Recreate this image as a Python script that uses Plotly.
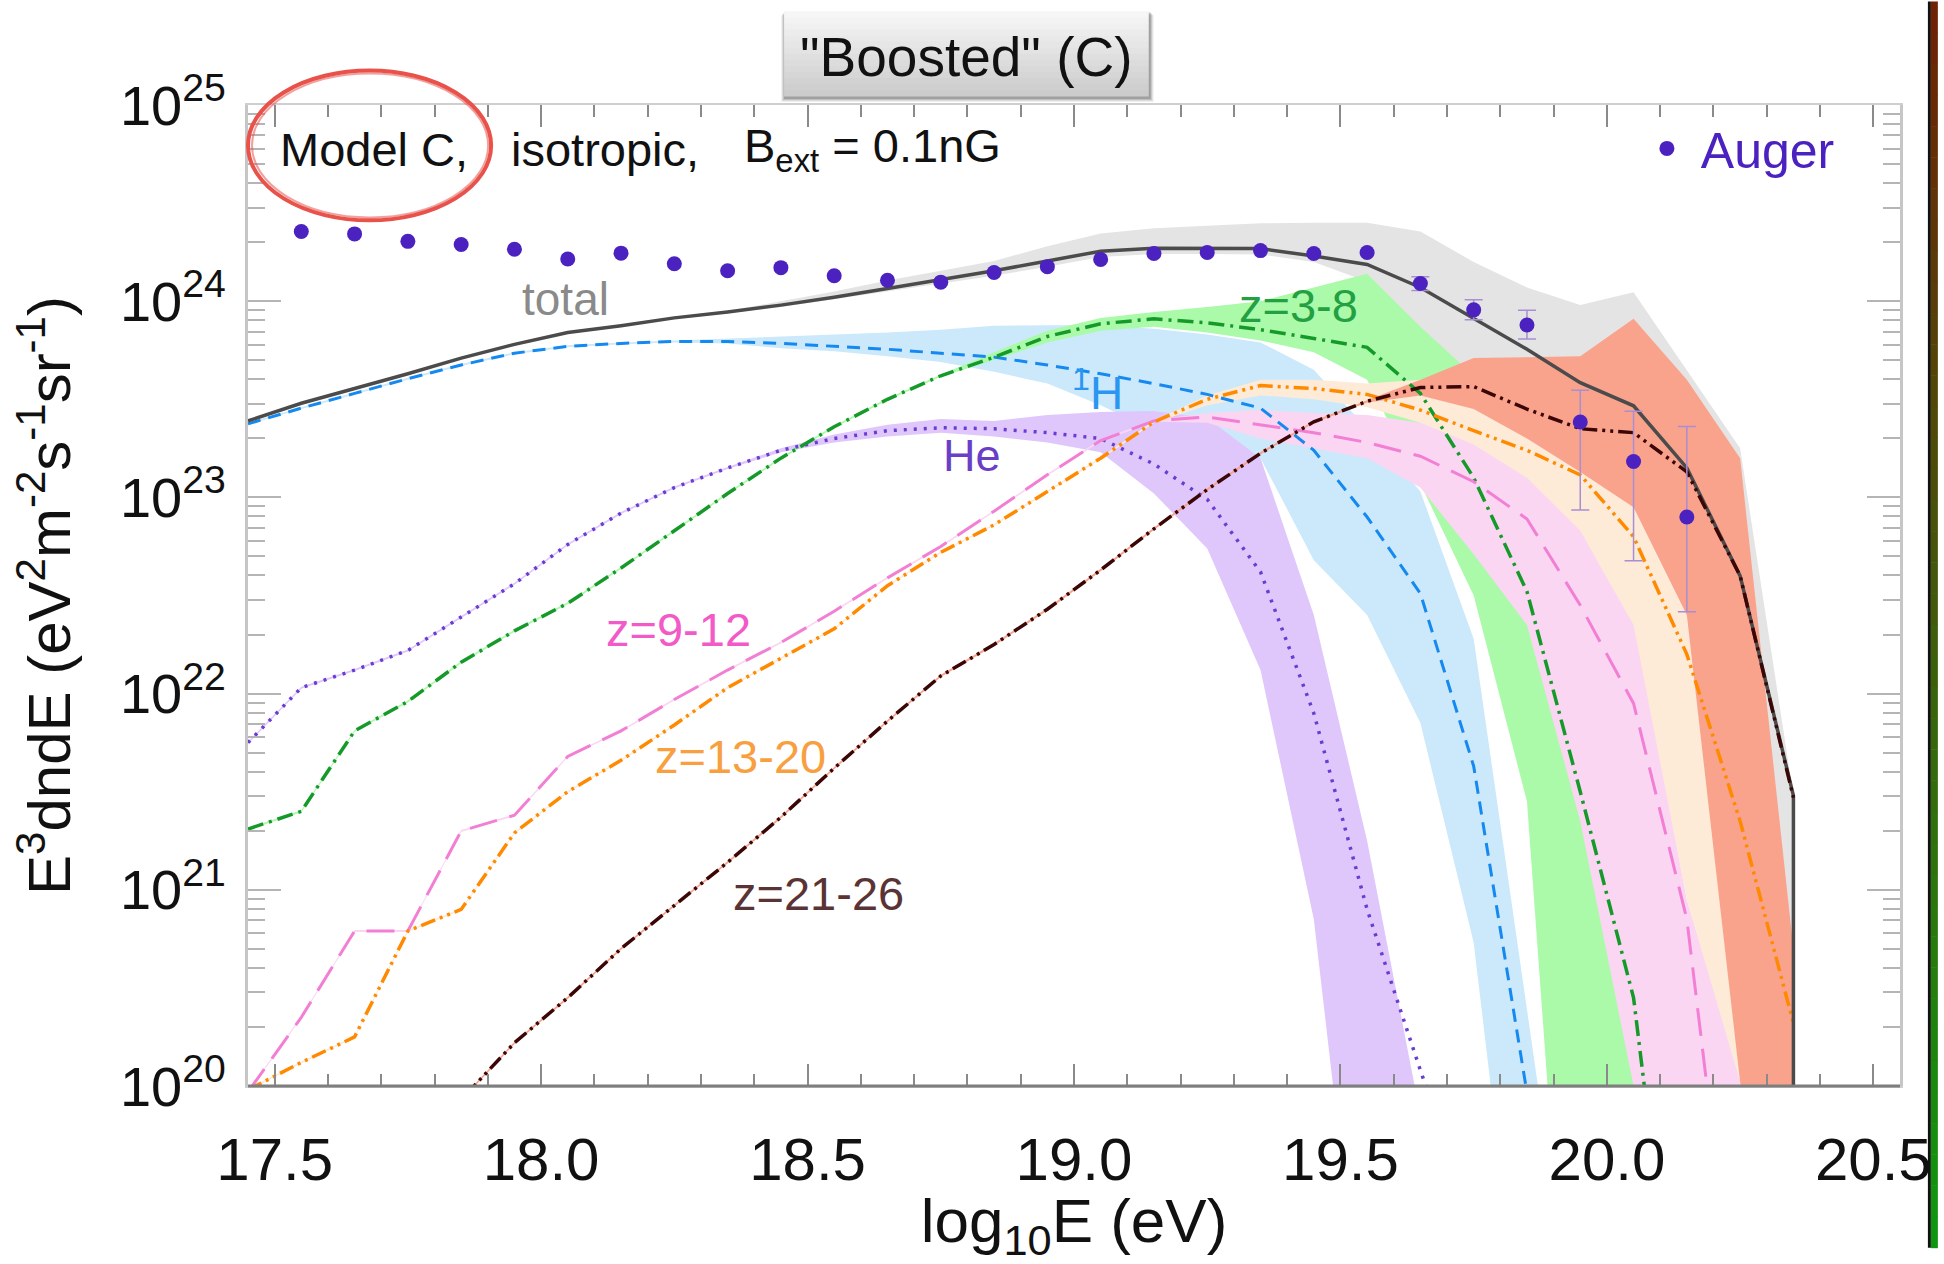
import numpy as np
import plotly.graph_objects as go

# ---------------- data (log10 of E^3 dN/dE, eV^2 m^-2 s^-1 sr^-1) ----------------
E_LOG = [17.45, 17.55, 17.65, 17.75, 17.85, 17.95, 18.05, 18.15, 18.25, 18.35,
         18.45, 18.55, 18.65, 18.75, 18.85, 18.95, 19.05, 19.15, 19.25, 19.35,
         19.45, 19.55, 19.65, 19.75, 19.85, 19.95, 20.05, 20.15, 20.25, 20.35]

TOTAL = [23.39, 23.48, 23.555, 23.63, 23.71, 23.78, 23.84, 23.875, 23.915, 23.945,
         23.98, 24.02, 24.065, 24.11, 24.155, 24.205, 24.255, 24.27, 24.27, 24.268,
         24.23, 24.187, 24.07, 23.91, 23.755, 23.585, 23.467, 23.15, 22.6, 21.48]
TOTAL_CUTOFF = 15.0  # flux vanishes above the last bin
TOTAL_HI = [23.395, 23.485, 23.56, 23.635, 23.715, 23.785, 23.845, 23.88, 23.92, 23.95,
            24.0, 24.05, 24.105, 24.155, 24.205, 24.28, 24.345, 24.372, 24.385, 24.397,
            24.4, 24.4, 24.355, 24.2, 24.07, 23.98, 24.045, 23.65, 23.25, 21.48]
TOTAL_LO = [23.385, 23.475, 23.55, 23.625, 23.705, 23.775, 23.835, 23.87, 23.91, 23.94,
            23.97, 24.01, 24.05, 24.09, 24.13, 24.175, 24.225, 24.24, 24.24, 24.238,
            24.2, 24.1, 23.7, 23.55, 23.5, 23.5, 23.45, 22.8, 22.0, 15.0]

H = [23.375, 23.455, 23.53, 23.605, 23.675, 23.735, 23.77, 23.785, 23.795, 23.795,
     23.785, 23.77, 23.755, 23.735, 23.715, 23.675, 23.63, 23.58, 23.525, 23.455,
     23.24, 22.9, 22.51, 21.63, 19.99, 18.3, 17.0, 16.0, 15.0, 14.0]
H_HI = [23.38, 23.46, 23.535, 23.61, 23.68, 23.74, 23.775, 23.79, 23.8, 23.81,
        23.82, 23.83, 23.84, 23.855, 23.875, 23.878, 23.878, 23.86, 23.83, 23.79,
        23.65, 23.35, 23.03, 22.28, 20.4, 18.5, 17.0, 16.0, 15.0, 14.0]
H_LO = [23.37, 23.45, 23.525, 23.6, 23.67, 23.73, 23.765, 23.78, 23.79, 23.785,
        23.76, 23.745, 23.72, 23.69, 23.64, 23.58, 23.47, 23.34, 23.27, 23.2,
        22.68, 22.4, 21.85, 20.73, 18.45, 17.0, 16.0, 15.0, 14.0, 13.0]

HE = [21.75, 22.03, 22.12, 22.22, 22.39, 22.56, 22.76, 22.92, 23.05, 23.15,
      23.24, 23.3, 23.34, 23.355, 23.35, 23.33, 23.3, 23.17, 22.99, 22.62,
      21.9, 20.9, 20.08, 19.3, 18.0, 17.0, 16.0, 15.0, 14.0, 13.0]
HE_HI = [21.755, 22.035, 22.125, 22.225, 22.395, 22.565, 22.765, 22.925, 23.055, 23.155,
         23.25, 23.32, 23.37, 23.40, 23.39, 23.42, 23.435, 23.44, 23.405, 23.2,
         22.4, 21.25, 19.85, 18.5, 17.0, 16.0, 15.0, 14.0, 13.0, 12.0]
HE_LO = [21.745, 22.025, 22.115, 22.215, 22.385, 22.555, 22.755, 22.915, 23.045, 23.145,
         23.23, 23.28, 23.31, 23.33, 23.31, 23.28, 23.23, 23.02, 22.74, 22.12,
         20.85, 18.5, 17.0, 16.0, 15.0, 14.0, 13.0, 12.0, 11.0, 10.0]

Z3_8 = [21.31, 21.40, 21.81, 21.96, 22.16, 22.32, 22.46, 22.64, 22.83, 23.02,
        23.2, 23.36, 23.5, 23.62, 23.715, 23.82, 23.885, 23.91, 23.89, 23.855,
        23.81, 23.765, 23.53, 23.1, 22.52, 21.5, 20.45, 18.2, 16.0, 15.0]
Z3_8_HI = [21.315, 21.405, 21.815, 21.965, 22.165, 22.325, 22.465, 22.645, 22.835, 23.025,
           23.205, 23.365, 23.505, 23.625, 23.74, 23.85, 23.915, 23.945, 23.97, 24.0,
           24.07, 24.14, 23.87, 23.62, 23.2, 22.5, 21.5, 20.3, 19.0, 17.0]
Z3_8_LO = [21.305, 21.395, 21.805, 21.955, 22.155, 22.315, 22.455, 22.635, 22.825, 23.015,
           23.195, 23.355, 23.495, 23.615, 23.70, 23.79, 23.85, 23.87, 23.84, 23.8,
           23.74, 23.6, 23.07, 22.5, 21.45, 17.7, 16.0, 15.0, 14.0, 13.0]

Z9_12 = [19.97, 20.35, 20.79, 20.79, 21.3, 21.38, 21.68, 21.81, 21.97, 22.12,
         22.26, 22.42, 22.59, 22.75, 22.93, 23.115, 23.29, 23.39, 23.41, 23.37,
         23.33, 23.28, 23.21, 23.08, 22.89, 22.45, 21.95, 20.85, 18.6, 16.0]
Z9_12_HI = [19.975, 20.355, 20.795, 20.795, 21.305, 21.385, 21.685, 21.815, 21.975, 22.125,
            22.265, 22.425, 22.595, 22.755, 22.935, 23.12, 23.295, 23.395, 23.43, 23.445,
            23.43, 23.42, 23.38, 23.3, 23.1, 22.85, 22.4, 20.95, 20.05, 18.5]
Z9_12_LO = [19.965, 20.345, 20.785, 20.785, 21.295, 21.375, 21.675, 21.805, 21.965, 22.115,
            22.255, 22.415, 22.585, 22.745, 22.925, 23.11, 23.285, 23.385, 23.38, 23.3,
            23.25, 23.2, 23.05, 22.71, 22.35, 21.35, 20.0, 17.0, 15.0, 14.0]

Z13_20 = [19.98, 20.12, 20.25, 20.79, 20.9, 21.29, 21.5, 21.66, 21.84, 22.03,
          22.18, 22.33, 22.55, 22.72, 22.86, 23.03, 23.2, 23.385, 23.5, 23.57,
          23.555, 23.525, 23.445, 23.34, 23.24, 23.115, 22.8, 22.2, 21.35, 20.32]
Z13_20_HI = [19.985, 20.125, 20.255, 20.795, 20.905, 21.295, 21.505, 21.665, 21.845, 22.035,
             22.185, 22.335, 22.555, 22.725, 22.865, 23.035, 23.205, 23.39, 23.52, 23.6,
             23.6, 23.58, 23.6, 23.55, 23.45, 23.35, 23.2, 22.8, 22.0, 20.5]
Z13_20_LO = [19.975, 20.115, 20.245, 20.785, 20.895, 21.285, 21.495, 21.655, 21.835, 22.025,
             22.175, 22.325, 22.545, 22.715, 22.855, 23.025, 23.195, 23.38, 23.47, 23.52,
             23.5, 23.46, 23.38, 23.27, 23.1, 22.83, 22.35, 20.95, 20.02, 18.5]

Z21_26 = [18.5, 18.8, 19.1, 19.5, 19.93, 20.22, 20.45, 20.7, 20.92, 21.14,
          21.37, 21.62, 21.86, 22.09, 22.25, 22.43, 22.63, 22.84, 23.04, 23.225,
          23.385, 23.49, 23.56, 23.565, 23.45, 23.35, 23.33, 23.13, 22.6, 21.47]
Z21_26_HI = [18.506, 18.806, 19.106, 19.506, 19.936, 20.226, 20.456, 20.706, 20.926, 21.146,
             21.376, 21.626, 21.866, 22.096, 22.256, 22.436, 22.636, 22.846, 23.046, 23.231,
             23.391, 23.496, 23.6, 23.71, 23.715, 23.72, 23.91, 23.6, 23.2, 20.7]
Z21_26_LO = [18.494, 18.794, 19.094, 19.494, 19.924, 20.214, 20.444, 20.694, 20.914, 21.134,
             21.364, 21.614, 21.854, 22.084, 22.244, 22.424, 22.624, 22.834, 23.034, 23.219,
             23.379, 23.484, 23.52, 23.45, 23.3, 23.13, 22.95, 22.4, 20.02, 18.5]

AUGER_E = [17.55, 17.65, 17.75, 17.85, 17.95, 18.05, 18.15, 18.25, 18.35, 18.45,
           18.55, 18.65, 18.75, 18.85, 18.95, 19.05, 19.15, 19.25, 19.35, 19.45,
           19.55, 19.65, 19.75, 19.85, 19.95, 20.05, 20.15]
AUGER_LOG = [24.355, 24.343, 24.305, 24.289, 24.265, 24.215, 24.245, 24.191, 24.155, 24.171,
             24.13, 24.107, 24.097, 24.146, 24.176, 24.213, 24.243, 24.248, 24.258, 24.243,
             24.248, 24.09, 23.956, 23.879, 23.384, 23.183, 22.9]
NAN = float("nan")
AUGER_ERR_UP = [NAN] * 21 + [0.035, 0.051, 0.075, 0.162, 0.256, 0.462]
AUGER_ERR_DN = [NAN] * 21 + [0.035, 0.050, 0.072, 0.448, 0.506, 0.483]

Y_TICK_EXP = [20, 21, 22, 23, 24, 25]

# ---------------- geometry helpers (pixel -> paper) ----------------
W, HGT = 1944, 1264
PL, PR, PT, PB = 248, 1906, 105, 1100


def pxx(x):
    return (x - PL) / (PR - PL)


def pxy(y):
    return (PB - y) / (PB - PT)


def lin(v):
    return [10.0 ** t for t in v]


fig = go.Figure()


def band(hi, lo, color):
    fig.add_trace(go.Scatter(
        x=E_LOG + E_LOG[::-1], y=lin(hi) + lin(lo[::-1]),
        mode="lines", fill="toself", fillcolor=color,
        line=dict(width=0, color=color), hoverinfo="skip", showlegend=False))


def curve(xs, vals, color, dash, width):
    fig.add_trace(go.Scatter(
        x=xs, y=lin(vals), mode="lines",
        line=dict(color=color, dash=dash, width=width),
        hoverinfo="skip", showlegend=False))


band(TOTAL_HI, TOTAL_LO, "#E4E4E4")
band(H_HI, H_LO, "#CBE9FB")
band(HE_HI, HE_LO, "#DFC7FB")
band(Z3_8_HI, Z3_8_LO, "#AAFAAA")
band(Z9_12_HI, Z9_12_LO, "#FAD6F3")
band(Z13_20_HI, Z13_20_LO, "#FDEBD8")
band(Z21_26_HI, Z21_26_LO, "#F9A38D")

curve(E_LOG, H, "#1589F0", "13px,8px", 3)
curve(E_LOG, HE, "#6A3CD2", "3px,7px", 3.5)
curve(E_LOG, Z3_8, "#159A2A", "16px,6px,3px,6px", 3.5)
curve(E_LOG, Z9_12, "#F27FD3", "28px,13px", 3)
curve(E_LOG, Z13_20, "#FF8A00", "15px,5px,3px,5px,3px,5px", 3.5)
curve(E_LOG + [E_LOG[-1]], TOTAL + [TOTAL_CUTOFF], "#4B4B4B", "solid", 3.5)
curve(E_LOG, Z21_26, "#3A0606", "15px,5px,3px,5px,3px,5px", 3.5)

a_y = np.array(AUGER_LOG)
a_up = np.array(AUGER_ERR_UP)
a_dn = np.array(AUGER_ERR_DN)
fig.add_trace(go.Scatter(
    x=AUGER_E, y=10.0 ** a_y, mode="markers", name="\u00a0Auger",
    marker=dict(color="#4B22C0", size=15),
    error_y=dict(type="data", symmetric=False,
                 array=10.0 ** (a_y + a_up) - 10.0 ** a_y,
                 arrayminus=10.0 ** a_y - 10.0 ** (a_y - a_dn),
                 color="#A88ED2", thickness=1.5, width=9),
    hoverinfo="skip", showlegend=True))

# ---------------- annotations ----------------
FONT = "Liberation Sans, Arial, sans-serif"
ann = []


def label(text, x, y, size, color, xanchor="center", family=FONT):
    ann.append(dict(text=text, x=pxx(x), y=pxy(y), xref="paper", yref="paper",
                    xanchor=xanchor, yanchor="middle", showarrow=False,
                    font=dict(family=family, size=size, color=color)))


label("Model C,", 278, 150, 47, "#111111", "left")
label("isotropic,", 510, 150, 47, "#111111", "left")
label("B<sub>ext</sub> = 0.1nG", 744, 150, 47, "#111111", "left")
label("total", 567, 302, 46, "#8A8A8A")
label("<sup>1</sup>H", 1101, 394, 46, "#2A96F2")
label("He", 975, 460, 45, "#6A3FC6")
label("z=3-8", 1302, 308, 47, "#22A042")
label("z=9-12", 680, 637, 47, "#F25AC8")
label("z=13-20", 742, 766, 47, "#F8A040")
label("z=21-26", 821, 905, 47, "#5A3434")
label('"Boosted" (C)', 969, 56, 55, "#111111")

# ---------------- shapes ----------------
shapes = []
# title box: soft shadow + vertical gradient strips
for off, alpha in [(5, 0.06), (4, 0.09), (3, 0.12), (2, 0.16)]:
    shapes.append(dict(type="rect", xref="paper", yref="paper", layer="above",
                       x0=pxx(786 - off + 2), x1=pxx(1152 + off), y0=pxy(97 + off), y1=pxy(10 + off - 1),
                       line=dict(width=0), fillcolor=f"rgba(0,0,0,{alpha})"))
NS = 14
for i in range(NS):
    y0p = 10 + (96 - 10) * i / NS
    y1p = 10 + (96 - 10) * (i + 1) / NS
    g = int(round(248 - (248 - 202) * (i + 0.5) / NS))
    shapes.append(dict(type="rect", xref="paper", yref="paper", layer="above",
                       x0=pxx(786), x1=pxx(1152), y0=pxy(y1p + 0.5), y1=pxy(y0p),
                       line=dict(width=0), fillcolor=f"rgb({g},{g},{g})"))
# hand-drawn red ellipse
shapes.append(dict(type="circle", xref="paper", yref="paper", layer="above",
                   x0=pxx(248), x1=pxx(492), y0=pxy(222), y1=pxy(70),
                   line=dict(color="#E8524A", width=4)))
shapes.append(dict(type="circle", xref="paper", yref="paper", layer="above",
                   x0=pxx(252), x1=pxx(489), y0=pxy(219), y1=pxy(73),
                   line=dict(color="rgba(232,82,74,0.55)", width=2)))
# dark bottom axis line
shapes.append(dict(type="line", xref="paper", yref="paper", layer="above",
                   x0=0, x1=1, y0=0, y1=0, line=dict(color="#7E7E7E", width=3)))
# right-edge colour strip
shapes.append(dict(type="rect", xref="paper", yref="paper", layer="above",
                   x0=pxx(1934), x1=pxx(1937), y0=pxy(1264), y1=pxy(0),
                   line=dict(width=0), fillcolor="#111111"))
NG = 40
top_c, bot_c = (112, 32, 4), (14, 152, 16)
for i in range(NG):
    t = (i + 0.5) / NG
    c = tuple(int(round(top_c[k] + (bot_c[k] - top_c[k]) * t)) for k in range(3))
    shapes.append(dict(type="rect", xref="paper", yref="paper", layer="above",
                       x0=pxx(1937), x1=pxx(1944), y0=pxy(1264 * (i + 1) / NG + 0.5), y1=pxy(1264 * i / NG),
                       line=dict(width=0), fillcolor=f"rgb{c}"))

minor_y = [k * 10.0 ** n for n in range(20, 25) for k in range(2, 10)]

fig.update_layout(
    width=W, height=HGT, autosize=False,
    margin=dict(l=PL, r=W - PR, t=PT, b=HGT - PB, pad=0),
    paper_bgcolor="white", plot_bgcolor="white",
    font=dict(family=FONT, color="#111111"),
    showlegend=True,
    legend=dict(x=pxx(1652), y=pxy(149), xanchor="left", yanchor="middle",
                bgcolor="rgba(0,0,0,0)", borderwidth=0,
                font=dict(family=FONT, size=50, color="#4B22C0")),
    xaxis=dict(range=[17.45, 20.55], tick0=17.5, dtick=0.5, tickformat=".1f",
               ticks="inside", ticklen=22, tickwidth=1.5, tickcolor="#8A8A8A",
               showline=True, linecolor="#CFCFCF", linewidth=2, mirror="ticks",
               showgrid=False, zeroline=False,
               tickfont=dict(family=FONT, size=60, color="#111111"),
               ticklabelstandoff=20,
               minor=dict(tick0=17.5, dtick=0.1, ticks="inside", ticklen=12,
                          tickwidth=1.5, tickcolor="#8A8A8A", showgrid=False),
               title=dict(text="log<sub>10</sub>E (eV)", standoff=16,
                          font=dict(family=FONT, size=62, color="#111111"))),
    yaxis=dict(type="log", range=[20, 25],
               tickvals=[10.0 ** e for e in Y_TICK_EXP],
               ticktext=[f"10<sup>{e}</sup>" for e in Y_TICK_EXP],
               ticks="inside", ticklen=33, tickwidth=2, tickcolor="#B5B5B5",
               showline=True, linecolor="#C6C6C6", linewidth=3, mirror="ticks",
               showgrid=False, zeroline=False,
               tickfont=dict(family=FONT, size=56, color="#111111"),
               ticklabelstandoff=8,
               minor=dict(tickvals=minor_y, ticks="inside", ticklen=17,
                          tickwidth=2, tickcolor="#B5B5B5", showgrid=False),
               title=dict(text="E<sup>3</sup>dndE (eV<sup>2</sup>m<sup>-2</sup>s<sup>-1</sup>sr<sup>-1</sup>)",
                          standoff=30, font=dict(family=FONT, size=60, color="#111111"))),
    annotations=ann,
    shapes=shapes,
)

fig.write_html("out.html")
